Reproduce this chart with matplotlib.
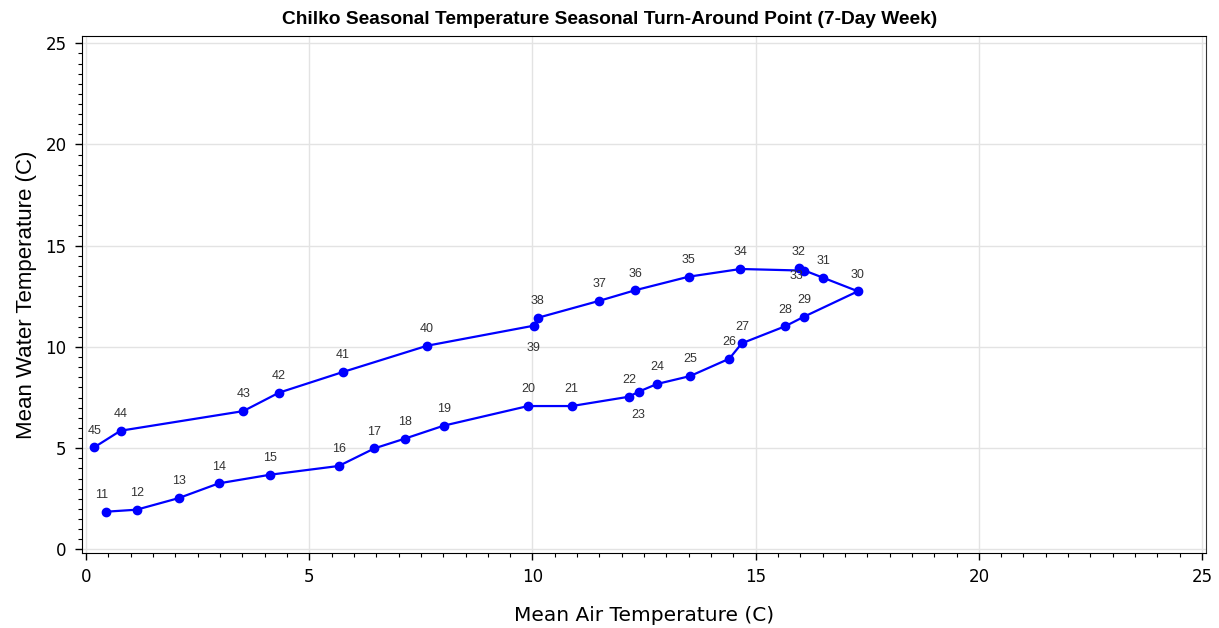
import matplotlib
matplotlib.use('Agg')
from matplotlib import pyplot as plt
from matplotlib.ticker import MultipleLocator

# weekly means: air vs water temperature, weeks 11 to 45
weeks = list(range(11, 46))
air_temp = [0.44, 1.13, 2.07, 2.97, 4.13, 5.66, 6.46, 7.14, 8.01, 9.90,
            10.88, 12.16, 12.38, 12.79, 13.53, 14.41, 14.69, 15.66, 16.08, 17.29,
            16.51, 15.97, 16.08, 14.66, 13.50, 12.30, 11.50, 10.12, 10.03, 7.64,
            5.75, 4.32, 3.52, 0.77, 0.18]
water_temp = [1.86, 1.96, 2.53, 3.26, 3.69, 4.12, 4.99, 5.47, 6.11, 7.08,
              7.08, 7.54, 7.79, 8.17, 8.56, 9.42, 10.18, 11.02, 11.49, 12.75,
              13.42, 13.88, 13.77, 13.85, 13.47, 12.80, 12.28, 11.44, 11.05, 10.06,
              8.76, 7.74, 6.83, 5.86, 5.04]

# label placement (offset points); the rest sit above their marker
label_offsets = {11: (-3, 12), 23: (0, -17), 33: (-5, -4), 39: (0, -16)}

fig = plt.figure(figsize=(12.19, 6.28), dpi=100)
ax = fig.add_axes([0.067, 0.1194, 0.922, 0.8233])

ax.plot(air_temp, water_temp, color='#0000ff', linewidth=1.6,
        marker='o', markersize=6, zorder=3)

for w, x, y in zip(weeks, air_temp, water_temp):
    dx, dy = label_offsets.get(w, (0, 12))
    ax.annotate(str(w), (x, y), xytext=(dx, dy), textcoords='offset points',
                ha='center', va='center', fontsize=9, color='#333333',
                family='Liberation Sans')

ax.set_xlim(-0.1, 25.08)
ax.set_ylim(-0.18, 25.36)
ax.xaxis.set_major_locator(MultipleLocator(5))
ax.xaxis.set_minor_locator(MultipleLocator(0.5))
ax.yaxis.set_major_locator(MultipleLocator(5))
ax.yaxis.set_minor_locator(MultipleLocator(0.5))
ax.tick_params(which='major', direction='out', length=5, width=1, labelsize=12, pad=6)
ax.tick_params(which='minor', direction='out', length=3, width=0.8)
ax.grid(True, which='major', color='#e3e3e3', linewidth=1)
ax.set_axisbelow(True)

for side in ['left', 'bottom', 'top']:
    ax.spines[side].set_color('black')
ax.spines['right'].set_color('#333333')

ax.set_xlabel('Mean Air Temperature (C)', fontsize=14.5, labelpad=14)
ax.set_ylabel('Mean Water Temperature (C)', fontsize=16, family='Liberation Sans', labelpad=6)
fig.suptitle('Chilko Seasonal Temperature Seasonal Turn-Around Point (7-Day Week)',
             fontsize=13.8, fontweight='bold', family='Liberation Sans', x=0.5, y=0.983)

fig.savefig('out.png', dpi=100)
